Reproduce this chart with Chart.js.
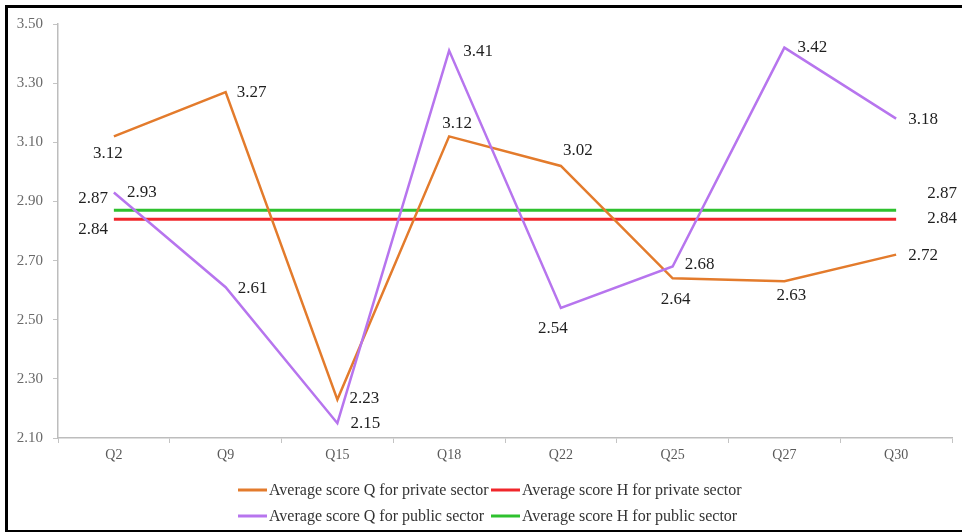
<!DOCTYPE html>
<html>
<head>
<meta charset="utf-8">
<script src="https://cdn.jsdelivr.net/npm/chart.js@4/dist/chart.umd.min.js"></script>
<style>
  html, body { margin: 0; padding: 0; background: #ffffff; }
  #wrap { position: relative; width: 962px; height: 532px; }
</style>
</head>
<body>
<div id="wrap"><canvas id="c" width="962" height="532"></canvas></div>
<script>
// ---- Data ----
const categories = ['Q2', 'Q9', 'Q15', 'Q18', 'Q22', 'Q25', 'Q27', 'Q30'];
const privateQ = [3.12, 3.27, 2.23, 3.12, 3.02, 2.64, 2.63, 2.72];
const publicQ  = [2.93, 2.61, 2.15, 3.41, 2.54, 2.68, 3.42, 3.18];
const privateH = [2.84, 2.84, 2.84, 2.84, 2.84, 2.84, 2.84, 2.84];
const publicH  = [2.87, 2.87, 2.87, 2.87, 2.87, 2.87, 2.87, 2.87];
const yTickLabels = ['2.10', '2.30', '2.50', '2.70', '2.90', '3.10', '3.30', '3.50'];
const seriesNames = [
  'Average score Q for private sector',
  'Average score H for private sector',
  'Average score Q for public sector',
  'Average score H for public sector'
];

// ---- Styling (label placement relative to each point: [dx, dy, align]) ----
const labelPlacement = {
  0: [[-6, 17, 'center'], [11, 1, 'left'], [12, -1, 'left'], [8, -13, 'center'],
      [17, -15, 'center'], [3, 21, 'center'], [7, 14, 'center'], [12, 1, 'left']],
  1: [[-6, 10, 'right'], null, null, null, null, null, null, [31, -1, 'left']],
  2: [[13, 0, 'left'], [12, 1, 'left'], [13, 0, 'left'], [14, 1, 'left'],
      [-8, 21, 'center'], [12, -2, 'left'], [13, 0, 'left'], [12, 1, 'left']],
  3: [[-6, -12, 'right'], null, null, null, null, null, null, [31, -17, 'left']]
};
const colors = ['#E37B2C', '#F0262B', '#B775EE', '#2EC12E'];
const widths = [2.5, 3, 2.5, 3];
const FONT = '"Liberation Serif", "Times New Roman", serif';

const yMin = parseFloat(yTickLabels[0]);
const yMax = parseFloat(yTickLabels[yTickLabels.length - 1]);

const valueLabels = {
  id: 'valueLabels',
  afterDatasetsDraw(chart) {
    const ctx = chart.ctx;
    ctx.save();
    ctx.font = '17px ' + FONT;
    ctx.fillStyle = '#1f1f1f';
    ctx.textBaseline = 'middle';
    chart.data.datasets.forEach((ds, di) => {
      const meta = chart.getDatasetMeta(di);
      const place = labelPlacement[di];
      meta.data.forEach((pt, i) => {
        const p = place[i];
        if (!p) return;
        ctx.textAlign = p[2];
        ctx.fillText(ds.data[i].toFixed(2), pt.x + p[0], pt.y + p[1]);
      });
    });
    ctx.restore();
  },
  afterDraw(chart) {
    const ctx = chart.ctx;
    ctx.save();
    // legend (two rows, two columns)
    ctx.font = '16px ' + FONT;
    ctx.textBaseline = 'middle';
    ctx.textAlign = 'left';
    const cols = [238, 491];
    const rows = [490, 516];
    chart.data.datasets.forEach((ds, di) => {
      const x = cols[di % 2];
      const y = rows[Math.floor(di / 2)];
      ctx.strokeStyle = ds.borderColor;
      ctx.lineWidth = 3;
      ctx.beginPath();
      ctx.moveTo(x, y);
      ctx.lineTo(x + 29, y);
      ctx.stroke();
      ctx.fillStyle = '#333333';
      ctx.fillText(ds.label, x + 31, y + 1);
    });
    // outer frame
    ctx.strokeStyle = '#000000';
    ctx.lineWidth = 3;
    ctx.strokeRect(6.5, 6.5, 970, 525);
    ctx.restore();
  }
};

new Chart(document.getElementById('c'), {
  type: 'line',
  data: {
    labels: categories,
    datasets: [
      { label: seriesNames[0], data: privateQ, borderColor: colors[0], borderWidth: widths[0], order: 2 },
      { label: seriesNames[1], data: privateH, borderColor: colors[1], borderWidth: widths[1], order: 3 },
      { label: seriesNames[2], data: publicQ,  borderColor: colors[2], borderWidth: widths[2], order: 1 },
      { label: seriesNames[3], data: publicH,  borderColor: colors[3], borderWidth: widths[3], order: 4 }
    ].map(d => Object.assign(d, { pointRadius: 0, pointHoverRadius: 0, fill: false, tension: 0, backgroundColor: d.borderColor }))
  },
  options: {
    responsive: false,
    animation: false,
    events: [],
    layout: { padding: { top: 24, right: 10, bottom: 64, left: 0 } },
    plugins: { legend: { display: false }, tooltip: { enabled: false } },
    scales: {
      x: {
        offset: true,
        grid: { display: true, offset: true, drawOnChartArea: false, drawTicks: true, tickLength: 5, color: '#c4c4c4' },
        border: { display: true, color: '#bdbdbd', width: 1.5 },
        ticks: { color: '#5a5a5a', font: { family: FONT, size: 14 }, padding: 4, maxRotation: 0 },
        afterFit(s) { s.height = 30; }
      },
      y: {
        min: yMin,
        max: yMax,
        grid: { display: true, drawOnChartArea: false, drawTicks: true, tickLength: 5, color: '#c4c4c4' },
        border: { display: true, color: '#bdbdbd', width: 1.5 },
        ticks: {
          stepSize: 0.2,
          color: '#6a6a6a',
          font: { family: FONT, size: 15 },
          padding: 10,
          callback: (v) => {
            const s = Number(v).toFixed(2);
            return yTickLabels.includes(s) ? s : '';
          }
        },
        afterFit(s) { s.width = 58; }
      }
    }
  },
  plugins: [valueLabels]
});
</script>
</body>
</html>
